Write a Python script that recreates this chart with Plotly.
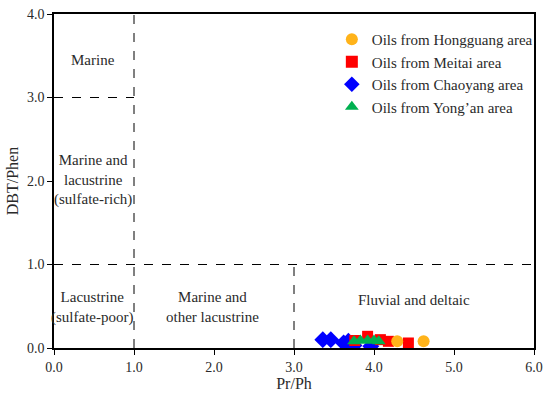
import plotly.graph_objects as go

hong_x = [4.29, 4.62]
hong_y = [0.08, 0.08]
meitai_x = [3.76, 3.92, 4.08, 4.18, 4.43]
meitai_y = [0.09, 0.14, 0.10, 0.08, 0.06]
chao_x = [3.36, 3.46, 3.62, 3.68, 3.75, 3.96]
chao_y = [0.10, 0.10, 0.06, 0.08, 0.03, 0.02]
yong_x = [3.75, 3.83, 3.92, 4.00, 4.06]
yong_y = [0.08, 0.09, 0.09, 0.09, 0.08]

FONT = "Liberation Serif"
TXT = "#2a2a2a"
fig = go.Figure()
fig.add_trace(go.Scatter(x=chao_x, y=chao_y, mode="markers", name="Oils from Chaoyang area",
                         marker=dict(symbol="diamond", color="#0000FF", size=13), legendrank=3))
fig.add_trace(go.Scatter(x=meitai_x, y=meitai_y, mode="markers", name="Oils from Meitai area",
                         marker=dict(symbol="square", color="#FF0000", size=11), legendrank=2))
fig.add_trace(go.Scatter(x=yong_x, y=yong_y, mode="markers", name="Oils from Yong\u2019an area",
                         marker=dict(symbol="triangle-up", color="#00B050", size=12), legendrank=4))
fig.add_trace(go.Scatter(x=hong_x, y=hong_y, mode="markers", name="Oils from Hongguang area",
                         marker=dict(symbol="circle", color="#FFB31A", size=12), legendrank=1))

dash = dict(color="black", width=1, dash="dash")
fig.add_shape(type="line", x0=1, x1=1, y0=0, y1=4, line=dash)
fig.add_shape(type="line", x0=0, x1=1, y0=3, y1=3, line=dash)
fig.add_shape(type="line", x0=0, x1=6, y0=1, y1=1, line=dash)
fig.add_shape(type="line", x0=3, x1=3, y0=0, y1=1, line=dash)

labels = [
    (0.49, 3.45, "Marine"),
    (0.49, 2.01, "Marine and<br>lacustrine<br>(sulfate-rich)"),
    (0.48, 0.49, "Lacustrine<br>(sulfate-poor)"),
    (1.98, 0.49, "Marine and<br>other lacustrine"),
    (4.5, 0.575, "Fluvial and deltaic"),
]
for x, y, t in labels:
    fig.add_annotation(x=x, y=y, text=t, showarrow=False,
                       font=dict(family=FONT, size=15, color=TXT))

fig.update_layout(
    width=550, height=394,
    margin=dict(l=54, r=16, t=14, b=46),
    plot_bgcolor="white", paper_bgcolor="white",
    font=dict(family=FONT, size=14, color=TXT),
    legend=dict(x=1.008, y=0.973, xanchor="right", yanchor="top",
                bgcolor="rgba(255,255,255,0)", font=dict(family=FONT, size=15, color=TXT),
                itemsizing="constant", tracegroupgap=0),
    showlegend=True,
)
fig.update_xaxes(range=[0, 6], tickvals=[0, 1, 2, 3, 4, 5, 6],
                 ticktext=["0.0", "1.0", "2.0", "3.0", "4.0", "5.0", "6.0"],
                 showgrid=False, zeroline=False, showline=True, linecolor="black", linewidth=1.5,
                 mirror=True, ticks="outside", ticklen=5, tickcolor="black", automargin=False,
                 tickfont=dict(family=FONT, size=14, color=TXT),
                 title=dict(text="Pr/Ph", font=dict(family=FONT, size=16, color=TXT), standoff=0))
fig.update_yaxes(range=[0, 4], tickvals=[0, 1, 2, 3, 4],
                 ticktext=["0.0", "1.0", "2.0", "3.0", "4.0"],
                 showgrid=False, zeroline=False, showline=True, linecolor="black", linewidth=1.5,
                 mirror=True, ticks="outside", ticklen=5, tickcolor="black", automargin=False,
                 tickfont=dict(family=FONT, size=14, color=TXT),
                 title=dict(text="DBT/Phen", font=dict(family=FONT, size=16, color=TXT), standoff=4))

fig.write_html("out.html", config={"displayModeBar": False},
               post_script="document.body.style.margin='0';document.body.style.padding='0';")
